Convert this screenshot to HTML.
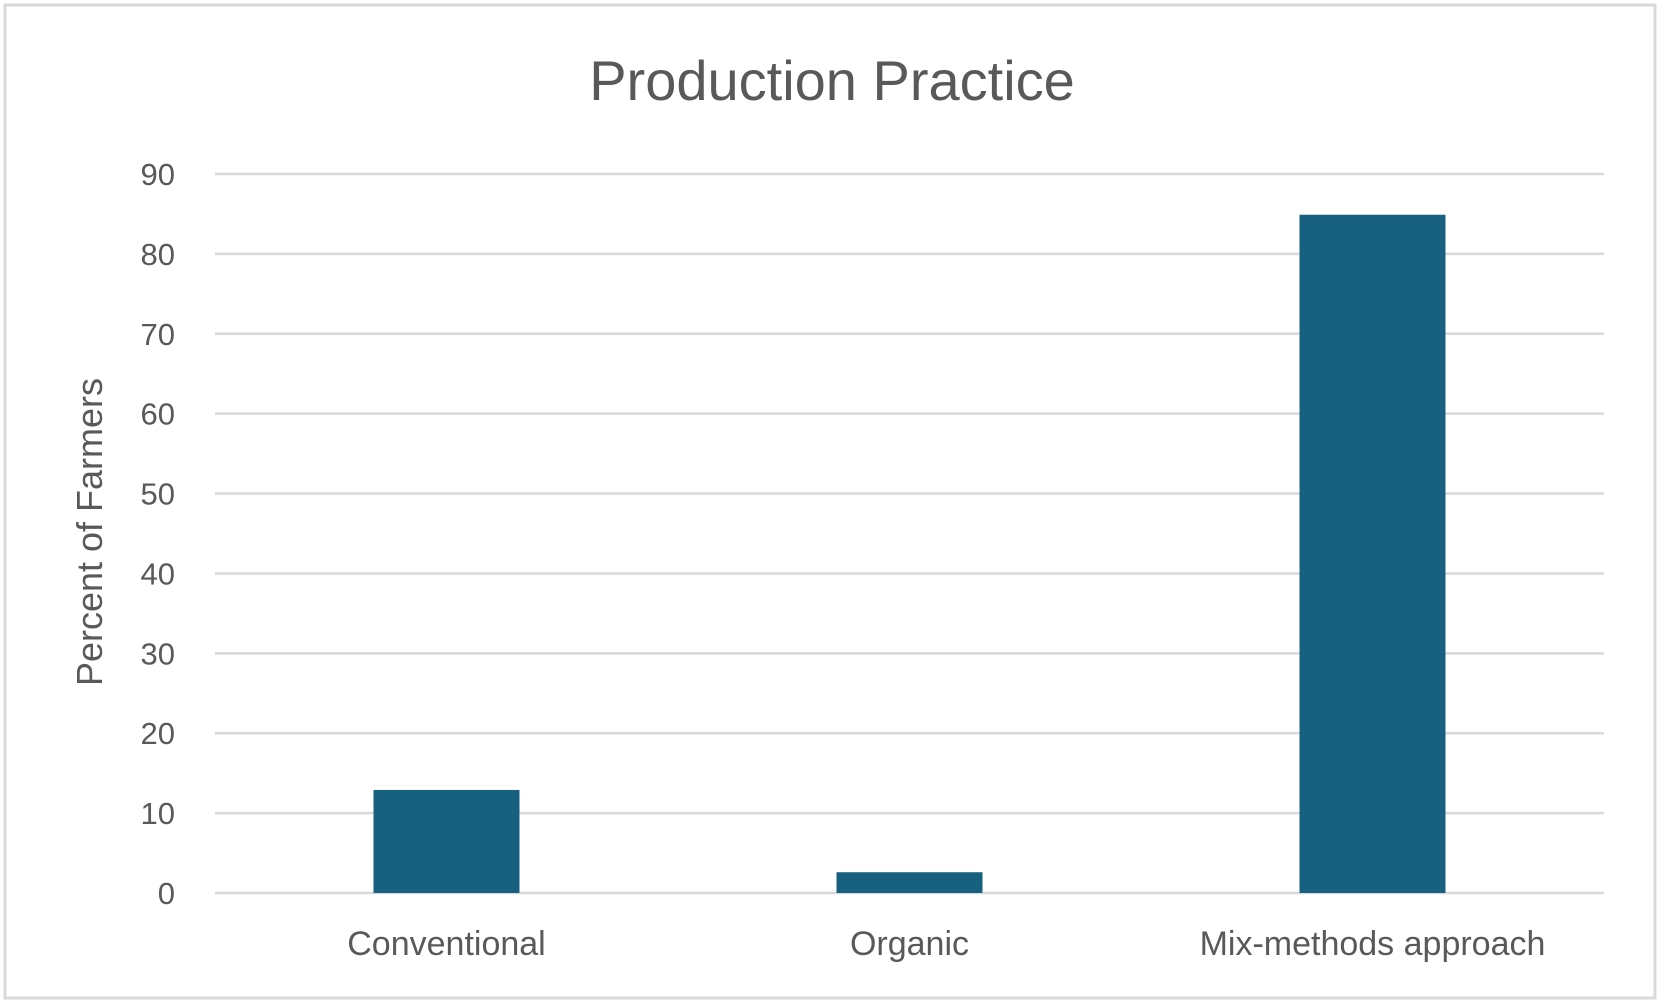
<!DOCTYPE html>
<html><head><meta charset="utf-8"><style>
html,body{margin:0;padding:0;background:#fff;}
svg{display:block;font-family:"Liberation Sans",sans-serif;}
</style></head><body>
<svg id="chart" width="1663" height="1003" viewBox="0 0 1663 1003">
<rect x="5" y="5" width="1650" height="993" fill="#fff" stroke="#d9d9d9" stroke-width="3"/>
<text x="832" y="100" text-anchor="middle" font-size="56" fill="#595959">Production Practice</text>
<text transform="translate(102,532) rotate(-90)" text-anchor="middle" font-size="36" fill="#595959">Percent of Farmers</text>
<g id="grid"></g><g id="bars"></g><g id="xlabels"></g>
</svg>
<script>
const categories = ["Conventional", "Organic", "Mix-methods approach"];
const values = [12.9, 2.6, 84.9];
const yTicks = [0, 10, 20, 30, 40, 50, 60, 70, 80, 90];
const NS = "http://www.w3.org/2000/svg";
const left = 215, right = 1604, y0 = 893, yTop = 174, yMax = 90;
const y = v => y0 - (v / yMax) * (y0 - yTop);
const band = (right - left) / categories.length;
const barW = 146;
const grid = document.getElementById('grid');
yTicks.forEach(t => {
  const l = document.createElementNS(NS, 'line');
  l.setAttribute('x1', left); l.setAttribute('x2', right);
  l.setAttribute('y1', y(t)); l.setAttribute('y2', y(t));
  l.setAttribute('stroke', '#d9d9d9'); l.setAttribute('stroke-width', '2.5');
  
  
  grid.appendChild(l);
  const tx = document.createElementNS(NS, 'text');
  tx.setAttribute('x', 175); tx.setAttribute('y', y(t) + 11);
  tx.setAttribute('text-anchor', 'end'); tx.setAttribute('font-size', '31'); tx.setAttribute('fill', '#595959');
  tx.textContent = t;
  
  
  grid.appendChild(tx);
});
const bars = document.getElementById('bars'), xl = document.getElementById('xlabels');
categories.forEach((c, i) => {
  const cx = left + band * (i + 0.5);
  const r = document.createElementNS(NS, 'rect');
  r.setAttribute('x', cx - barW / 2); r.setAttribute('width', barW);
  r.setAttribute('y', y(values[i])); r.setAttribute('height', y0 - y(values[i]));
  r.setAttribute('fill', '#17607f');
  
  
  bars.appendChild(r);
  const t = document.createElementNS(NS, 'text');
  t.setAttribute('x', cx); t.setAttribute('y', 955);
  t.setAttribute('text-anchor', 'middle'); t.setAttribute('font-size', '34'); t.setAttribute('fill', '#595959');
  t.textContent = c;
  
  
  xl.appendChild(t);
});
</script>
</body></html>
